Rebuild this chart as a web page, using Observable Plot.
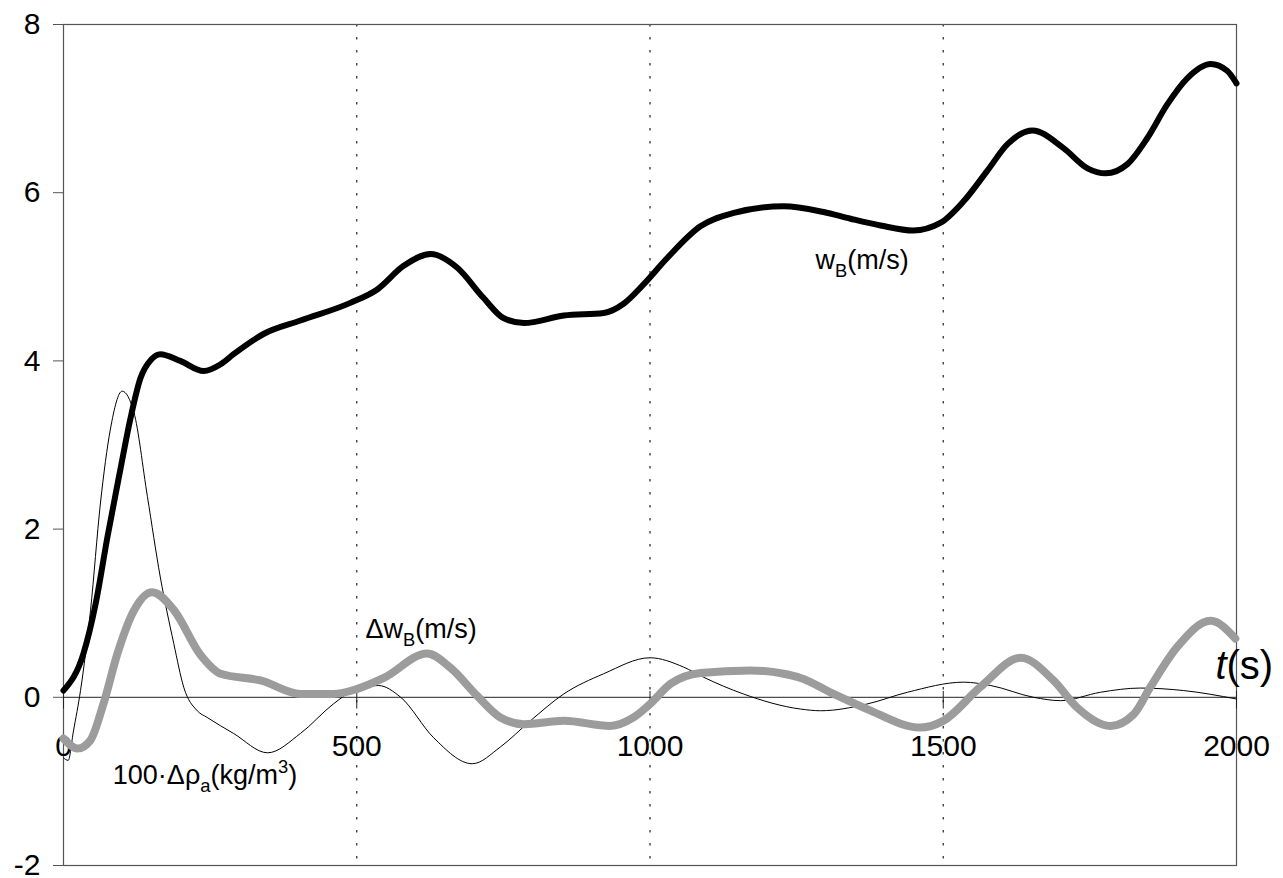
<!DOCTYPE html>
<html><head><meta charset="utf-8">
<script src="https://cdn.jsdelivr.net/npm/d3@7"></script>
<script src="https://cdn.jsdelivr.net/npm/@observablehq/plot@0.6"></script>
<style>html,body{margin:0;padding:0;background:#fff;} #chart{width:1283px;height:878px;}</style>
</head><body><div id="chart"></div>
<script>
// w_B (m/s) — thick black
const tW = [0, 34, 55, 75, 97, 114, 131, 150, 165, 199, 239, 268, 290, 341, 404, 489, 535, 580, 626, 671, 716, 750, 785, 853, 921, 955, 989, 1029, 1086, 1143, 1228, 1296, 1342, 1393, 1449, 1495, 1535, 1575, 1610, 1652, 1705, 1746, 1777, 1814, 1848, 1882, 1916, 1956, 1984, 2000];
const wB = [0.08, 0.52, 1.12, 1.91, 2.71, 3.31, 3.79, 4.02, 4.08, 4.0, 3.88, 3.96, 4.08, 4.32, 4.48, 4.69, 4.85, 5.13, 5.27, 5.11, 4.75, 4.51, 4.45, 4.54, 4.57, 4.68, 4.91, 5.22, 5.6, 5.76, 5.84, 5.77, 5.69, 5.61, 5.55, 5.64, 5.9, 6.26, 6.58, 6.74, 6.53, 6.29, 6.23, 6.34, 6.65, 7.05, 7.36, 7.53, 7.45, 7.3];

// Δw_B (m/s) — thick grey
const tD = [0, 24, 46, 68, 92, 120, 151, 188, 234, 268, 336, 404, 460, 501, 546, 620, 660, 705, 745, 785, 853, 932, 972, 1000, 1035, 1086, 1171, 1228, 1257, 1313, 1370, 1461, 1500, 1563, 1632, 1688, 1728, 1785, 1825, 1853, 1899, 1956, 1998];
const dwB = [-0.49, -0.61, -0.51, -0.08, 0.52, 1.03, 1.25, 1.04, 0.5, 0.28, 0.2, 0.04, 0.04, 0.1, 0.23, 0.52, 0.35, 0.02, -0.24, -0.32, -0.28, -0.34, -0.24, -0.08, 0.16, 0.29, 0.32, 0.28, 0.23, 0.04, -0.14, -0.36, -0.28, 0.12, 0.47, 0.2, -0.12, -0.34, -0.2, 0.12, 0.6, 0.91, 0.7];

// 100·Δρ_a (kg/m³) — thin black
const tR = [0, 8, 17, 29, 46, 63, 80, 100, 120, 143, 165, 188, 205, 228, 245, 290, 348, 404, 460, 494, 537, 575, 631, 697, 745, 796, 853, 921, 1000, 1057, 1091, 1159, 1257, 1291, 1370, 1439, 1535, 1581, 1654, 1700, 1768, 1836, 1910, 2000];
const rho = [-0.72, -0.75, -0.4, 0.08, 1.03, 2.31, 3.19, 3.64, 3.39, 2.39, 1.43, 0.64, 0.12, -0.16, -0.24, -0.43, -0.66, -0.43, -0.08, 0.08, 0.14, 0.0, -0.48, -0.79, -0.59, -0.28, 0.04, 0.28, 0.47, 0.36, 0.24, 0.04, -0.14, -0.16, -0.08, 0.06, 0.18, 0.14, 0.0, -0.04, 0.06, 0.11, 0.08, -0.02];

const xTicks = [0, 500, 1000, 1500, 2000];
const xTickLabels = ["0", "500", "1000", "1500", "2000"];
const yTicks = [-2, 0, 2, 4, 6, 8];
const gridX = [500, 1000, 1500];

// labels: "_" = subscript next char, "^" = superscript next char, "~" = italic next char
const seriesLabels = ["w_B(m/s)", "Δw_B(m/s)", "100·Δρ_a(kg/m^3)"];
const seriesLabelT = [1282, 515, 84];
const seriesLabelV = [5.09, 0.71, -1.03];
const axisTitle = "~t(s)";
const axisTitleT = 1964;
const axisTitleV = 0.22;

const W = tW.map((t, i) => ({t, v: wB[i]}));
const D = tD.map((t, i) => ({t, v: dwB[i]}));
const R = tR.map((t, i) => ({t, v: rho[i]}));
const labelRows = seriesLabels.map((s, i) => ({s, t: seriesLabelT[i], v: seriesLabelV[i]}));

const plot = Plot.plot({
  width: 1283, height: 878,
  marginLeft: 63, marginRight: 47, marginTop: 24, marginBottom: 13,
  style: {fontFamily: "'Liberation Sans', Arial, sans-serif", color: "black", background: "white"},
  x: {domain: [0, 2000], axis: null},
  y: {domain: [-2, 8], axis: null},
  marks: [
    Plot.ruleX(gridX, {stroke: "#333", strokeDasharray: "2.5,10.5", strokeWidth: 1.3}),
    Plot.frame({stroke: "#555", strokeWidth: 1.2}),
    Plot.ruleY([0], {stroke: "#222", strokeWidth: 1}),
    Plot.ruleX(xTicks, {y1: 0.07, y2: -0.14, stroke: "#222"}),
    Plot.axisY(yTicks, {label: null, tickSize: 10, tickPadding: 13, fontSize: 30, stroke: "#555", tickFormat: d => String(d)}),
    Plot.text(xTicks, {x: d => d, y: () => 0, text: (d, i) => xTickLabels[i], dy: 49, fontSize: 30, fill: "black"}),
    Plot.line(R, {x: "t", y: "v", curve: "monotone-x", stroke: "black", strokeWidth: 1}),
    Plot.line(D, {x: "t", y: "v", curve: "monotone-x", stroke: "#9c9c9c", strokeWidth: 8}),
    Plot.line(W, {x: "t", y: "v", curve: "monotone-x", stroke: "black", strokeWidth: 6}),
    Plot.text(labelRows, {x: "t", y: "v", text: "s", textAnchor: "start", lineAnchor: "bottom", fontSize: 27, fill: "black"}),
    Plot.text([axisTitle], {x: () => axisTitleT, y: () => axisTitleV, text: d => d, textAnchor: "start", lineAnchor: "bottom", fontSize: 40, fill: "black"})
  ]
});
document.getElementById("chart").appendChild(plot);

function richText(el, src, fs) {
  while (el.firstChild) el.removeChild(el.firstChild);
  let shift = 0;
  for (let i = 0; i < src.length; i++) {
    let ch = src[i], mode = "n";
    if ((ch === "_" || ch === "^" || ch === "~") && i + 1 < src.length) { mode = ch; ch = src[++i]; }
    const ts = document.createElementNS("http://www.w3.org/2000/svg", "tspan");
    const target = mode === "_" ? fs * 0.3 : mode === "^" ? -fs * 0.42 : 0;
    if (target !== shift) { ts.setAttribute("dy", target - shift); shift = target; }
    if (mode === "_" || mode === "^") ts.setAttribute("font-size", fs * 0.68);
    if (mode === "~") ts.setAttribute("font-style", "italic");
    ts.textContent = ch;
    el.appendChild(ts);
    if (mode === "~") {
      const sp = document.createElementNS("http://www.w3.org/2000/svg", "tspan");
      sp.setAttribute("dx", fs * 0.08);
      sp.textContent = "";
      el.appendChild(sp);
    }
  }
}
plot.querySelectorAll("text").forEach(el => {
  const s = el.textContent;
  const i = seriesLabels.indexOf(s);
  if (i >= 0) richText(el, s, 27);
  else if (s === axisTitle) richText(el, s, 40);
});
</script>
</body></html>
